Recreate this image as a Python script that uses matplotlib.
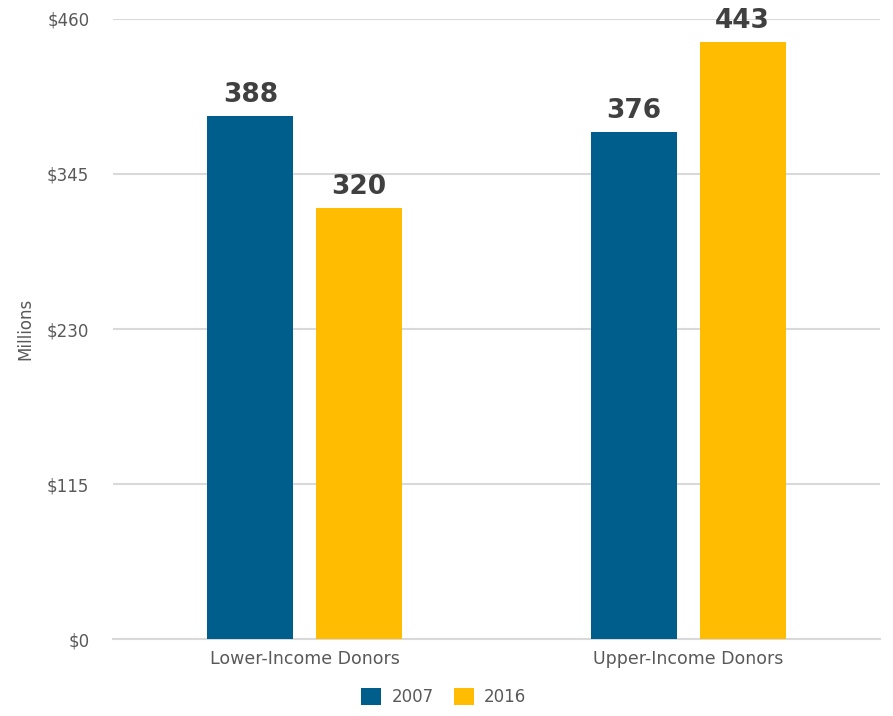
import matplotlib
import numpy as np

matplotlib.use('Agg')

import matplotlib.pyplot as plt

categories = ['Lower-Income Donors', 'Upper-Income Donors']
years = ['2007', '2016']
values_2007 = [388, 376]
values_2016 = [320, 443]
yticks = [0, 115, 230, 345, 460]
colors = ['#005E8D', '#FFBC00']


def plot_bars():
    fig = plt.figure(figsize=(8.93, 7.16), dpi=100)
    ax = fig.add_axes([0.1265, 0.1075, 0.859, 0.866])

    x = np.arange(len(categories))
    w = 0.224
    off = 0.142
    series = [values_2007, values_2016]
    for i, vals in enumerate(series):
        pos = x + (-off if i == 0 else off)
        bars = ax.bar(pos, vals, width=w, color=colors[i], label=years[i], zorder=3)
        for b, v in zip(bars, vals):
            ax.text(b.get_x() + b.get_width() / 2, v + 6, str(v), ha='center', va='bottom',
                    fontsize=19, fontweight='bold', color='#404040', zorder=4)

    ax.set_xlim(-0.5, 1.5)
    ax.set_ylim(0, 460)
    ax.set_yticks(yticks)
    ax.set_yticklabels(['$' + str(t) for t in yticks])
    ax.set_xticks(x)
    ax.set_xticklabels(categories)
    ax.yaxis.grid(True, color='#D9D9D9', linewidth=1.5, zorder=0)
    for s in ['top', 'right', 'left']:
        ax.spines[s].set_visible(False)
    ax.spines['bottom'].set_color('#D9D9D9')
    ax.spines['bottom'].set_linewidth(1.5)
    ax.tick_params(axis='both', length=0, labelsize=12, colors='#595959')
    ax.tick_params(axis='y', pad=17)
    ax.tick_params(axis='x', pad=8, labelsize=12.5)
    ax.set_ylabel('Millions', fontsize=12, color='#595959', labelpad=9)

    ax.legend(loc='upper center', bbox_to_anchor=(0.431, -0.055), ncol=2, frameon=False,
              fontsize=12, handlelength=1.2, handleheight=1.2, columnspacing=1.2,
              handletextpad=0.6, labelcolor='#595959')

    plt.savefig('out.png')


if __name__ == '__main__':
    plot_bars()
